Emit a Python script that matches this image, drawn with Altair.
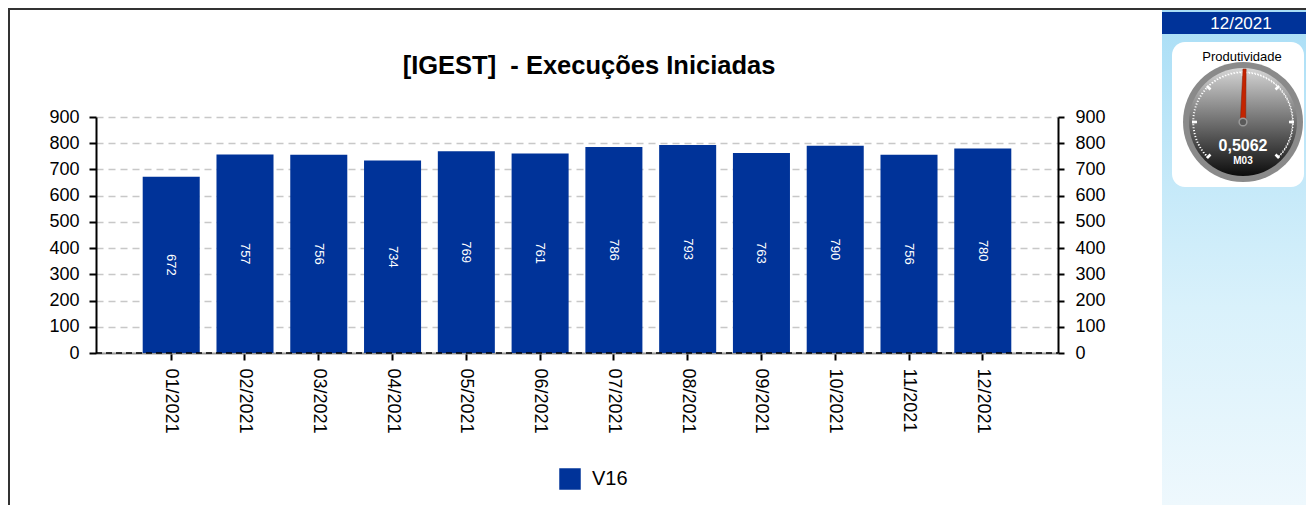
import math
import altair as alt
import pandas as pd

FONT = "Liberation Sans, Arial, Helvetica, sans-serif"

# ---- data ----
months = ["01/2021", "02/2021", "03/2021", "04/2021", "05/2021", "06/2021",
          "07/2021", "08/2021", "09/2021", "10/2021", "11/2021", "12/2021"]
values = [672, 757, 756, 734, 769, 761, 786, 793, 763, 790, 756, 780]
series_name = "V16"
y_ticks = [0, 100, 200, 300, 400, 500, 600, 700, 800, 900]
title_text = "[IGEST] \u00a0- Execuções Iniciadas"

gauge_period = "12/2021"
gauge_title = "Produtividade"
gauge_value = [0.5062]
gauge_value_label = ["0,5062"]
gauge_unit = ["M03"]
gauge_major_angles = [-135, -90, -45, 0, 45, 90, 135]

BLUE = "#003399"
W, H = 962, 236
RIGHT_EDGE = 1210   # plot x of the page's usable right edge
BOTTOM_EDGE = 388   # plot y of the page's usable bottom edge
GX, GY = 1147, 5    # gauge centre in plot coordinates

df = pd.DataFrame({"month": months, "value": values, "series": [series_name] * len(months)})
one = pd.DataFrame({"k": [0]})

yscale = alt.Scale(domain=[0, 900], nice=False, zero=True)

X = alt.X(
    "month:N", sort=months,
    scale=alt.Scale(paddingInner=0.227, paddingOuter=0.633),
    axis=alt.Axis(title=None, labelAngle=90, labelFontSize=18, labelFont=FONT,
                  labelColor="black", tickColor="black", tickWidth=2, tickSize=7,
                  labelPadding=8, domainColor="#999999", domainWidth=2,
                  labelAlign="left", labelBaseline="middle"),
)

left_axis = alt.Axis(orient="left", values=y_ticks, title=None, labelFontSize=18,
                     labelFont=FONT, labelColor="black", tickSize=7, tickWidth=2,
                     tickColor="black", domainColor="black", domainWidth=2,
                     labelPadding=10, grid=True, gridColor="#c8c8c8",
                     gridDash=[7, 5], gridWidth=1.5)
right_axis = alt.Axis(orient="right", values=y_ticks, title=None, labelFontSize=18,
                      labelFont=FONT, labelColor="black", tickSize=6, tickWidth=2,
                      tickColor="black", domainColor="black", domainWidth=2,
                      labelPadding=11, grid=False)

bars = alt.Chart(df).mark_bar().encode(
    x=X,
    y=alt.Y("value:Q", scale=yscale, axis=left_axis),
    color=alt.Color("series:N", scale=alt.Scale(range=[BLUE]),
                    legend=alt.Legend(orient="none", legendX=463, legendY=351,
                                      title=None, symbolType="square", symbolSize=462,
                                      symbolStrokeWidth=0, labelFontSize=20,
                                      labelFont=FONT, labelColor="black",
                                      labelOffset=11, padding=0)),
)

right = alt.Chart(df).mark_bar(opacity=0).encode(
    x=X,
    y=alt.Y("value:Q", scale=yscale, axis=right_axis),
)

bar_labels = alt.Chart(df).transform_calculate(mid="datum.value / 2").mark_text(
    angle=90, fontSize=13, font=FONT, color="white", align="center", baseline="middle"
).encode(
    x=X,
    y=alt.Y("mid:Q", scale=yscale, axis=None),
    text="value:Q",
)

baseline = alt.Chart(one).mark_rule(color="black", strokeDash=[6, 4], strokeWidth=1.5).encode(
    x=alt.value(0), x2=alt.value(W), y=alt.value(H)
)

title = alt.Chart(one).mark_text(fontSize=25.5, fontWeight="bold", font=FONT, color="black",
                                 align="center", baseline="middle").encode(
    x=alt.value(493), y=alt.value(-51), text=alt.value(title_text)
)

# ---- frame ----
top_border = alt.Chart(one).mark_rule(color="#333333", strokeWidth=2).encode(
    x=alt.value(-88), x2=alt.value(RIGHT_EDGE), y=alt.value(-108)
)
left_border = alt.Chart(one).mark_rule(color="#333333", strokeWidth=2).encode(
    x=alt.value(-87), y=alt.value(-108), y2=alt.value(BOTTOM_EDGE)
)

# ---- sidebar ----
side_grad = alt.LinearGradient(gradient="linear", x1=0, x2=0, y1=0, y2=1,
                               stops=[alt.GradientStop(color="#a9def6", offset=0),
                                      alt.GradientStop(color="#d9f1fb", offset=0.6),
                                      alt.GradientStop(color="#eef8fd", offset=1)])
sidebar = alt.Chart(one).mark_rect(color=side_grad).encode(
    x=alt.value(1066), x2=alt.value(RIGHT_EDGE), y=alt.value(-107), y2=alt.value(BOTTOM_EDGE)
)
header = alt.Chart(one).mark_rect(color=BLUE).encode(
    x=alt.value(1066), x2=alt.value(RIGHT_EDGE), y=alt.value(-105), y2=alt.value(-83)
)
header_text = alt.Chart(one).mark_text(fontSize=17, font=FONT, color="white",
                                       align="center", baseline="middle").encode(
    x=alt.value(1145), y=alt.value(-93.5), text=alt.value(gauge_period)
)
white_box = alt.Chart(one).mark_rect(color="white", cornerRadius=13).encode(
    x=alt.value(1076), x2=alt.value(1208), y=alt.value(-75), y2=alt.value(70)
)
gauge_title_text = alt.Chart(one).mark_text(fontSize=13, font=FONT, color="black",
                                            align="center", baseline="middle").encode(
    x=alt.value(1146), y=alt.value(-60.5), text=alt.value(gauge_title)
)

# ---- gauge ----
ring = alt.Chart(one).mark_arc(color="#8a8a8a", radius=60, theta=0, theta2=6.2832).encode(
    x=alt.value(GX), y=alt.value(GY)
)
face_grad = alt.LinearGradient(gradient="linear", x1=0, x2=0, y1=0, y2=1,
                               stops=[alt.GradientStop(color="#d6d6d6", offset=0),
                                      alt.GradientStop(color="#707070", offset=0.5),
                                      alt.GradientStop(color="#0c0c0c", offset=1)])
face = alt.Chart(one).mark_arc(color=face_grad, radius=54, theta=0, theta2=6.2832).encode(
    x=alt.value(GX), y=alt.value(GY)
)
dots = alt.Chart(one).mark_arc(radius=50, radius2=49.5, theta=3.927, theta2=8.639,
                               fill="transparent", stroke="white", strokeWidth=1.5,
                               strokeDash=[1, 2]).encode(
    x=alt.value(GX), y=alt.value(GY)
)
major = alt.Chart(pd.DataFrame({"a": gauge_major_angles})).transform_calculate(
    t1="(datum.a - 1.6) * PI / 180 + 2 * PI",
    t2="(datum.a + 1.6) * PI / 180 + 2 * PI",
).mark_arc(color="white", radius=51, radius2=46).encode(
    x=alt.value(GX), y=alt.value(GY),
    theta=alt.Theta("t1:Q", scale=None, stack=None),
    theta2="t2:Q",
)
needle = alt.Chart(pd.DataFrame({"v": gauge_value})).transform_calculate(
    deg="(-135 + 270 * datum.v + 360) % 360"
).mark_point(shape="M -0.05 0 L -0.03 -1 L 0.03 -1 L 0.05 0 Z", size=11236,
             filled=True, color="#c42400", opacity=1, stroke="#8a1a00",
             strokeWidth=0.5).encode(
    x=alt.value(GX), y=alt.value(GY),
    angle=alt.Angle("deg:Q", scale=None),
)
hub = alt.Chart(one).mark_point(shape="circle", size=60, filled=True, color="#5a5a5a",
                                stroke="#9a9a9a", strokeWidth=1.5, opacity=1).encode(
    x=alt.value(GX), y=alt.value(GY)
)
val_text = alt.Chart(pd.DataFrame({"t": gauge_value_label})).mark_text(
    fontSize=16, fontWeight="bold", font=FONT, color="white", align="center", baseline="middle"
).encode(x=alt.value(GX), y=alt.value(28.5), text="t:N")
unit_text = alt.Chart(pd.DataFrame({"t": gauge_unit})).mark_text(
    fontSize=10, fontWeight="bold", font=FONT, color="white", align="center", baseline="middle"
).encode(x=alt.value(GX), y=alt.value(44), text="t:N")

chart = alt.layer(
    sidebar, top_border, left_border, header, header_text, white_box, gauge_title_text,
    ring, face, dots, major, needle, hub, val_text, unit_text,
    bars, right, bar_labels, baseline, title,
).resolve_scale(y="independent").properties(
    width=W, height=H,
    padding={"left": 88, "top": 109, "right": 248, "bottom": 152},
    autosize=alt.AutoSizeParams(type="none"),
    background="white",
).configure_view(stroke=None)

chart.save("out.html", embed_options={"renderer": "svg", "actions": False})
